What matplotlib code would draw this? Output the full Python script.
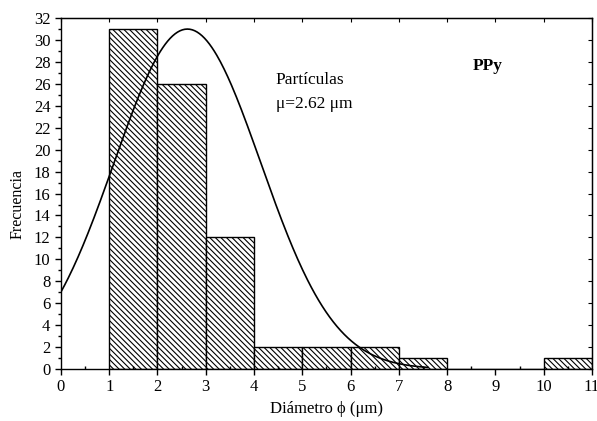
import matplotlib as mpl
mpl.use('Agg')
import matplotlib.pyplot as plt
import numpy as np

plt.rcParams['font.family'] = ['Liberation Serif', 'DejaVu Serif']
plt.rcParams['hatch.linewidth'] = 0.8

# histogram bins (um) and counts
bin_left = [1, 2, 3, 4, 5, 6, 7, 8, 9, 10]
counts = [31, 26, 12, 2, 2, 2, 1, 0, 0, 1]

# gaussian fit
mu = 2.62
sigma = 1.52
amp = 31.0
x_fit = np.linspace(0, 7.6, 300)
y_fit = amp * np.exp(-(x_fit - mu) ** 2 / (2 * sigma ** 2))

fig = plt.figure(figsize=(5.97, 4.21), dpi=100)
ax = fig.add_axes([0.102, 0.1235, 0.8896, 0.8335])

ax.bar(bin_left, counts, width=1, align='edge', color='white',
       edgecolor='black', linewidth=1.0, hatch='\\' * 6)
ax.plot(x_fit, y_fit, color='black', linewidth=1.2)

ax.set_xlim(0, 11)
ax.set_ylim(0, 32)
ax.set_xticks(range(0, 12))
ax.set_yticks(range(0, 33, 2))
ax.set_xticks(np.arange(0.5, 11, 1), minor=True)
ax.set_yticks(range(1, 32, 2), minor=True)
ax.tick_params(which='both', direction='out', labelsize=12, width=1)
ax.tick_params(which='major', length=4)
ax.tick_params(which='minor', length=2)
ax.tick_params(axis='x', which='minor', direction='in')
for s in ax.spines.values():
    s.set_linewidth(1.0)

# top/right ticks without labels
axt = ax.secondary_xaxis('top')
axt.set_xticks(range(0, 12))
axt.set_xticklabels([])
axt.tick_params(direction='in', length=3)
axr = ax.secondary_yaxis('right')
axr.set_yticks(range(0, 33, 2))
axr.set_yticklabels([])
axr.tick_params(direction='in', length=3)

ax.set_xlabel('Diámetro ϕ (μm)', fontsize=12)
ax.xaxis.set_label_coords(0.5, -0.092)
ax.set_ylabel('Frecuencia', fontsize=11.5)
ax.yaxis.set_label_coords(-0.067, 0.47)

ax.text(4.45, 26.0, 'Partículas', fontsize=12.5)
ax.text(4.45, 23.8, 'μ=2.62 μm', fontsize=12.5)
ax.text(8.85, 27.3, 'PPy', fontsize=12.5, fontweight='bold', ha='center')

fig.savefig('out.png', dpi=100)
